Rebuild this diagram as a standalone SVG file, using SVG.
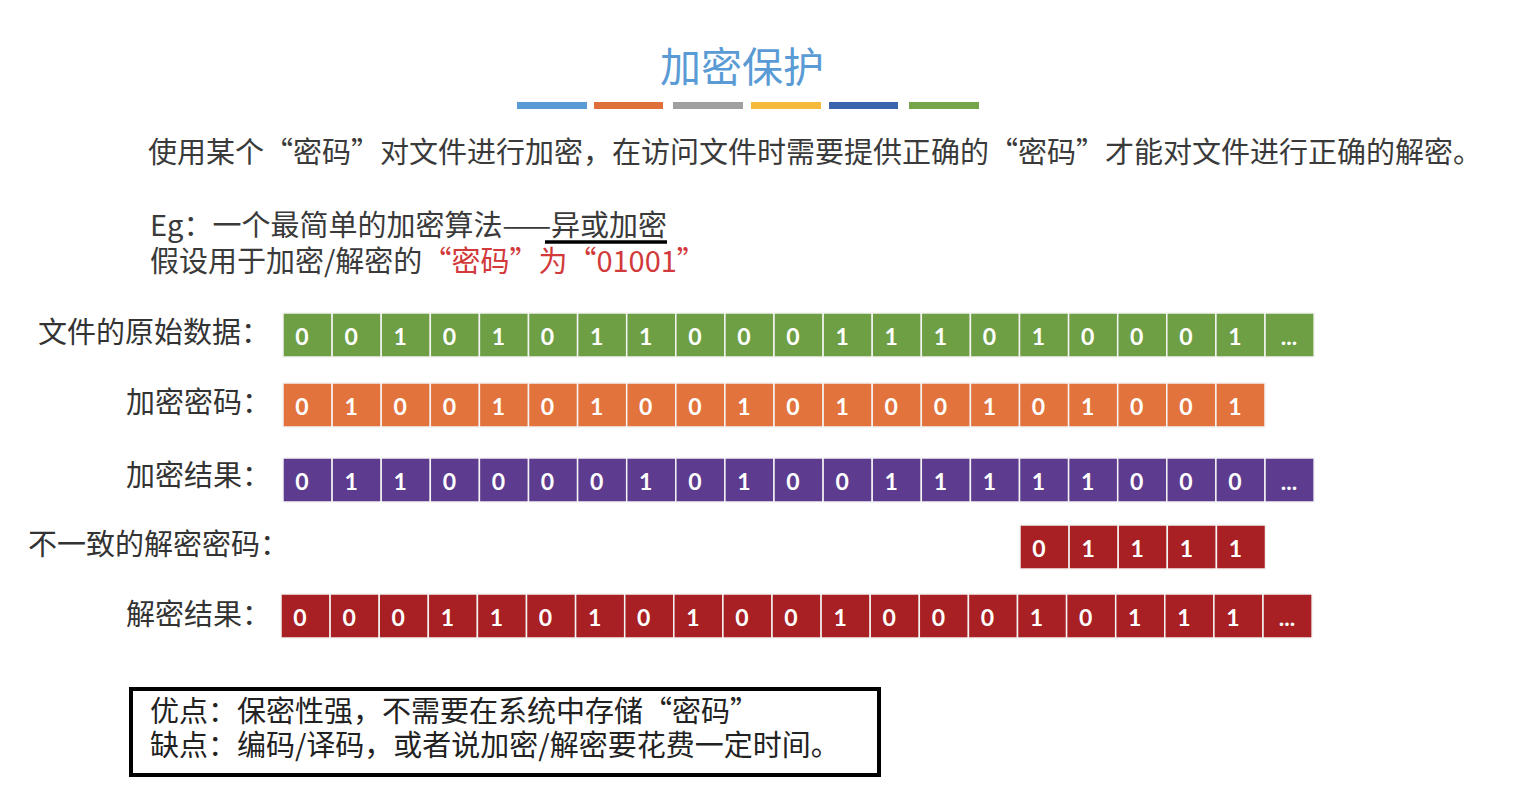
<svg xmlns="http://www.w3.org/2000/svg" width="1516" height="795" viewBox="0 0 1516 795">
<style>
.cjk{font-family:"Noto Sans CJK SC","Noto Sans",sans-serif;}
.txt{font-size:29px;fill:#3a3a3a;}
.lbl{font-size:29px;fill:#333;}
.c rect{stroke:#f4f4f4;stroke-width:1.5;width:49.1px;height:44px;}
.c text{font-family:Lato,"DejaVu Sans",sans-serif;font-weight:bold;font-size:23px;fill:#fff;text-anchor:middle;}
.g rect{fill:#6E9F45;}
.o rect{fill:#E2733D;}
.p rect{fill:#5D3B8F;}
.r rect{fill:#A82023;}
</style>
<rect width="1516" height="795" fill="#fff"/>
<g id="title">
<text class="cjk" x="742" y="82" font-size="41" fill="#5B9BD5" text-anchor="middle">加密保护</text>
<rect x="517" y="102" width="70" height="7" fill="#5B9BD5"/>
<rect x="594" y="102" width="69" height="7" fill="#E0703A"/>
<rect x="673" y="102" width="70" height="7" fill="#A0A0A0"/>
<rect x="751" y="102" width="70" height="7" fill="#F5B93B"/>
<rect x="829" y="102" width="69" height="7" fill="#3B64AE"/>
<rect x="909" y="102" width="70" height="7" fill="#77A64A"/>
</g>
<g id="intro">
<text class="cjk txt" x="148" y="163">使用某个“密码”对文件进行加密，在访问文件时需要提供正确的“密码”才能对文件进行正确的解密。</text>
<text class="cjk txt" x="150" y="236">Eg：一个最简单的加密算法——异或加密</text>
<line x1="545" y1="242" x2="667" y2="242" stroke="#000" stroke-width="3.5"/>
<text class="cjk txt" x="150" y="272">假设用于加密/解密的<tspan fill="#D2393B">“密码”为“01001”</tspan></text>
</g>
<g id="labels">
<text class="cjk lbl" x="38" y="343">文件的原始数据：</text>
<text class="cjk lbl" x="126" y="413">加密密码：</text>
<text class="cjk lbl" x="126" y="486">加密结果：</text>
<text class="cjk lbl" x="28" y="555">不一致的解密密码：</text>
<text class="cjk lbl" x="126" y="625">解密结果：</text>
</g>
<g id="row-original" class="c g" transform="translate(283,313)">
<rect x="0" y="0"/><rect x="49.1" y="0"/><rect x="98.2" y="0"/><rect x="147.3" y="0"/><rect x="196.4" y="0"/><rect x="245.5" y="0"/><rect x="294.6" y="0"/><rect x="343.7" y="0"/><rect x="392.8" y="0"/><rect x="441.9" y="0"/><rect x="491" y="0"/><rect x="540.1" y="0"/><rect x="589.2" y="0"/><rect x="638.3" y="0"/><rect x="687.4" y="0"/><rect x="736.5" y="0"/><rect x="785.6" y="0"/><rect x="834.7" y="0"/><rect x="883.8" y="0"/><rect x="932.9" y="0"/><rect x="982" y="0"/>
<text x="19" y="32">0</text><text x="68.1" y="32">0</text><text x="117.2" y="32">1</text><text x="166.3" y="32">0</text><text x="215.4" y="32">1</text><text x="264.5" y="32">0</text><text x="313.6" y="32">1</text><text x="362.7" y="32">1</text><text x="411.8" y="32">0</text><text x="460.9" y="32">0</text><text x="510" y="32">0</text><text x="559.1" y="32">1</text><text x="608.2" y="32">1</text><text x="657.3" y="32">1</text><text x="706.4" y="32">0</text><text x="755.5" y="32">1</text><text x="804.6" y="32">0</text><text x="853.7" y="32">0</text><text x="902.8" y="32">0</text><text x="951.9" y="32">1</text><text x="1006" y="32">...</text>
</g>
<g id="row-key" class="c o" transform="translate(283,383)">
<rect x="0" y="0"/><rect x="49.1" y="0"/><rect x="98.2" y="0"/><rect x="147.3" y="0"/><rect x="196.4" y="0"/><rect x="245.5" y="0"/><rect x="294.6" y="0"/><rect x="343.7" y="0"/><rect x="392.8" y="0"/><rect x="441.9" y="0"/><rect x="491" y="0"/><rect x="540.1" y="0"/><rect x="589.2" y="0"/><rect x="638.3" y="0"/><rect x="687.4" y="0"/><rect x="736.5" y="0"/><rect x="785.6" y="0"/><rect x="834.7" y="0"/><rect x="883.8" y="0"/><rect x="932.9" y="0"/>
<text x="19" y="32">0</text><text x="68.1" y="32">1</text><text x="117.2" y="32">0</text><text x="166.3" y="32">0</text><text x="215.4" y="32">1</text><text x="264.5" y="32">0</text><text x="313.6" y="32">1</text><text x="362.7" y="32">0</text><text x="411.8" y="32">0</text><text x="460.9" y="32">1</text><text x="510" y="32">0</text><text x="559.1" y="32">1</text><text x="608.2" y="32">0</text><text x="657.3" y="32">0</text><text x="706.4" y="32">1</text><text x="755.5" y="32">0</text><text x="804.6" y="32">1</text><text x="853.7" y="32">0</text><text x="902.8" y="32">0</text><text x="951.9" y="32">1</text>
</g>
<g id="row-encrypted" class="c p" transform="translate(283,458)">
<rect x="0" y="0"/><rect x="49.1" y="0"/><rect x="98.2" y="0"/><rect x="147.3" y="0"/><rect x="196.4" y="0"/><rect x="245.5" y="0"/><rect x="294.6" y="0"/><rect x="343.7" y="0"/><rect x="392.8" y="0"/><rect x="441.9" y="0"/><rect x="491" y="0"/><rect x="540.1" y="0"/><rect x="589.2" y="0"/><rect x="638.3" y="0"/><rect x="687.4" y="0"/><rect x="736.5" y="0"/><rect x="785.6" y="0"/><rect x="834.7" y="0"/><rect x="883.8" y="0"/><rect x="932.9" y="0"/><rect x="982" y="0"/>
<text x="19" y="32">0</text><text x="68.1" y="32">1</text><text x="117.2" y="32">1</text><text x="166.3" y="32">0</text><text x="215.4" y="32">0</text><text x="264.5" y="32">0</text><text x="313.6" y="32">0</text><text x="362.7" y="32">1</text><text x="411.8" y="32">0</text><text x="460.9" y="32">1</text><text x="510" y="32">0</text><text x="559.1" y="32">0</text><text x="608.2" y="32">1</text><text x="657.3" y="32">1</text><text x="706.4" y="32">1</text><text x="755.5" y="32">1</text><text x="804.6" y="32">1</text><text x="853.7" y="32">0</text><text x="902.8" y="32">0</text><text x="951.9" y="32">0</text><text x="1006" y="32">...</text>
</g>
<g id="row-wrongkey" class="c r" transform="translate(1020,525)">
<rect x="0" y="0"/><rect x="49.1" y="0"/><rect x="98.2" y="0"/><rect x="147.3" y="0"/><rect x="196.4" y="0"/>
<text x="19" y="32">0</text><text x="68.1" y="32">1</text><text x="117.2" y="32">1</text><text x="166.3" y="32">1</text><text x="215.4" y="32">1</text>
</g>
<g id="row-decrypted" class="c r" transform="translate(281,594)">
<rect x="0" y="0"/><rect x="49.1" y="0"/><rect x="98.2" y="0"/><rect x="147.3" y="0"/><rect x="196.4" y="0"/><rect x="245.5" y="0"/><rect x="294.6" y="0"/><rect x="343.7" y="0"/><rect x="392.8" y="0"/><rect x="441.9" y="0"/><rect x="491" y="0"/><rect x="540.1" y="0"/><rect x="589.2" y="0"/><rect x="638.3" y="0"/><rect x="687.4" y="0"/><rect x="736.5" y="0"/><rect x="785.6" y="0"/><rect x="834.7" y="0"/><rect x="883.8" y="0"/><rect x="932.9" y="0"/><rect x="982" y="0"/>
<text x="19" y="32">0</text><text x="68.1" y="32">0</text><text x="117.2" y="32">0</text><text x="166.3" y="32">1</text><text x="215.4" y="32">1</text><text x="264.5" y="32">0</text><text x="313.6" y="32">1</text><text x="362.7" y="32">0</text><text x="411.8" y="32">1</text><text x="460.9" y="32">0</text><text x="510" y="32">0</text><text x="559.1" y="32">1</text><text x="608.2" y="32">0</text><text x="657.3" y="32">0</text><text x="706.4" y="32">0</text><text x="755.5" y="32">1</text><text x="804.6" y="32">0</text><text x="853.7" y="32">1</text><text x="902.8" y="32">1</text><text x="951.9" y="32">1</text><text x="1006" y="32">...</text>
</g>
<g id="summary">
<rect x="131" y="689" width="748" height="86" fill="#fff" stroke="#000" stroke-width="4"/>
<text class="cjk" x="150" y="722" font-size="29" fill="#222">优点：保密性强，不需要在系统中存储“密码”</text>
<text class="cjk" x="150" y="756" font-size="29" fill="#222">缺点：编码/译码，或者说加密/解密要花费一定时间。</text>
</g>
</svg>
